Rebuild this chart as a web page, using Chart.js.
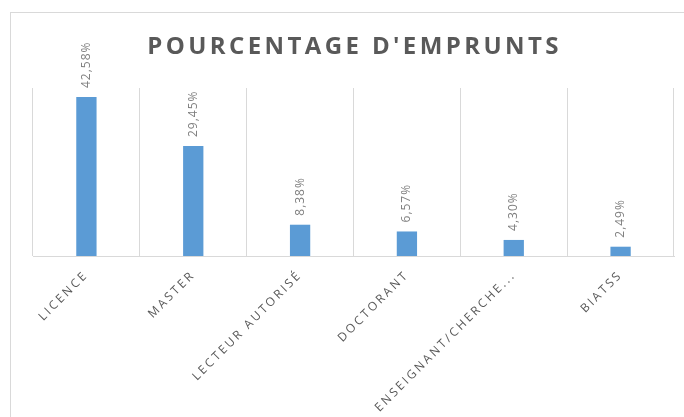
<!DOCTYPE html>
<html><head><meta charset="utf-8">
<script src="https://cdn.jsdelivr.net/npm/chart.js@4"></script>
<style>
html,body{margin:0;padding:0;background:#fff;overflow:hidden;width:684px;height:417px;}
#frame{position:absolute;left:10px;top:12px;width:700px;height:420px;border:1px solid #d9d9d9;}
#wrap{position:absolute;left:12px;top:14px;width:684px;height:403px;}
</style></head>
<body>
<div id="frame"></div>
<div id="wrap"><canvas id="c" width="684" height="403"></canvas></div>
<script>
const categories = ["LICENCE","MASTER","LECTEUR AUTORISÉ","DOCTORANT","ENSEIGNANT/CHERCHE...","BIATSS"];
const values = [42.58, 29.45, 8.38, 6.57, 4.30, 2.49];
const valueLabels = ["42,58%","29,45%","8,38%","6,57%","4,30%","2,49%"];
const chartTitle = "POURCENTAGE D'EMPRUNTS";

const customPlugin = {
  id: 'custom',
  beforeDraw(chart){ chart.ctx.letterSpacing = '2.5px'; },
  afterDatasetsDraw(chart){
    const ctx = chart.ctx;
    const meta = chart.getDatasetMeta(0);
    ctx.save();
    ctx.letterSpacing = '1px';
    ctx.font = '12px "Open Sans"';
    ctx.fillStyle = '#7f7f7f';
    ctx.textAlign = 'left';
    ctx.textBaseline = 'middle';
    meta.data.forEach((bar, i) => {
      ctx.save();
      ctx.translate(bar.x, bar.y - 9);
      ctx.rotate(-Math.PI/2);
      ctx.fillText(valueLabels[i], 0, 0);
      ctx.restore();
    });
    ctx.restore();
    // title
    ctx.save();
    ctx.letterSpacing = '3.4px';
    ctx.font = 'bold 24px "Open Sans"';
    ctx.fillStyle = '#595959';
    ctx.textAlign = 'center';
    ctx.textBaseline = 'middle';
    const cx = (chart.chartArea.left + chart.chartArea.right) / 2 + 1;
    ctx.fillText(chartTitle, cx, 33);
    ctx.restore();
  }
};

new Chart(document.getElementById('c'), {
  type: 'bar',
  data: {
    labels: categories,
    datasets: [{
      data: values,
      backgroundColor: '#5b9bd5',
      barPercentage: 0.19,
      categoryPercentage: 1.0
    }]
  },
  options: {
    responsive: false,
    animation: false,
    layout: { padding: { left: 21, right: 22, top: 74, bottom: 0 } },
    plugins: {
      legend: { display: false },
      tooltip: { enabled: false },
      title: { display: false }
    },
    scales: {
      x: {
        grid: { display: true, color: '#d9d9d9', drawTicks: false, offset: true },
        border: { display: true, color: '#d9d9d9' },
        ticks: {
          color: '#595959',
          font: { family: '"Open Sans"', size: 12 },
          minRotation: 45, maxRotation: 45,
          padding: 12,
          autoSkip: false
        },
        afterFit(scale){ scale.height = 161; }
      },
      y: {
        display: false,
        min: 0, max: 45
      }
    }
  },
  plugins: [customPlugin]
});
</script>
</body></html>
